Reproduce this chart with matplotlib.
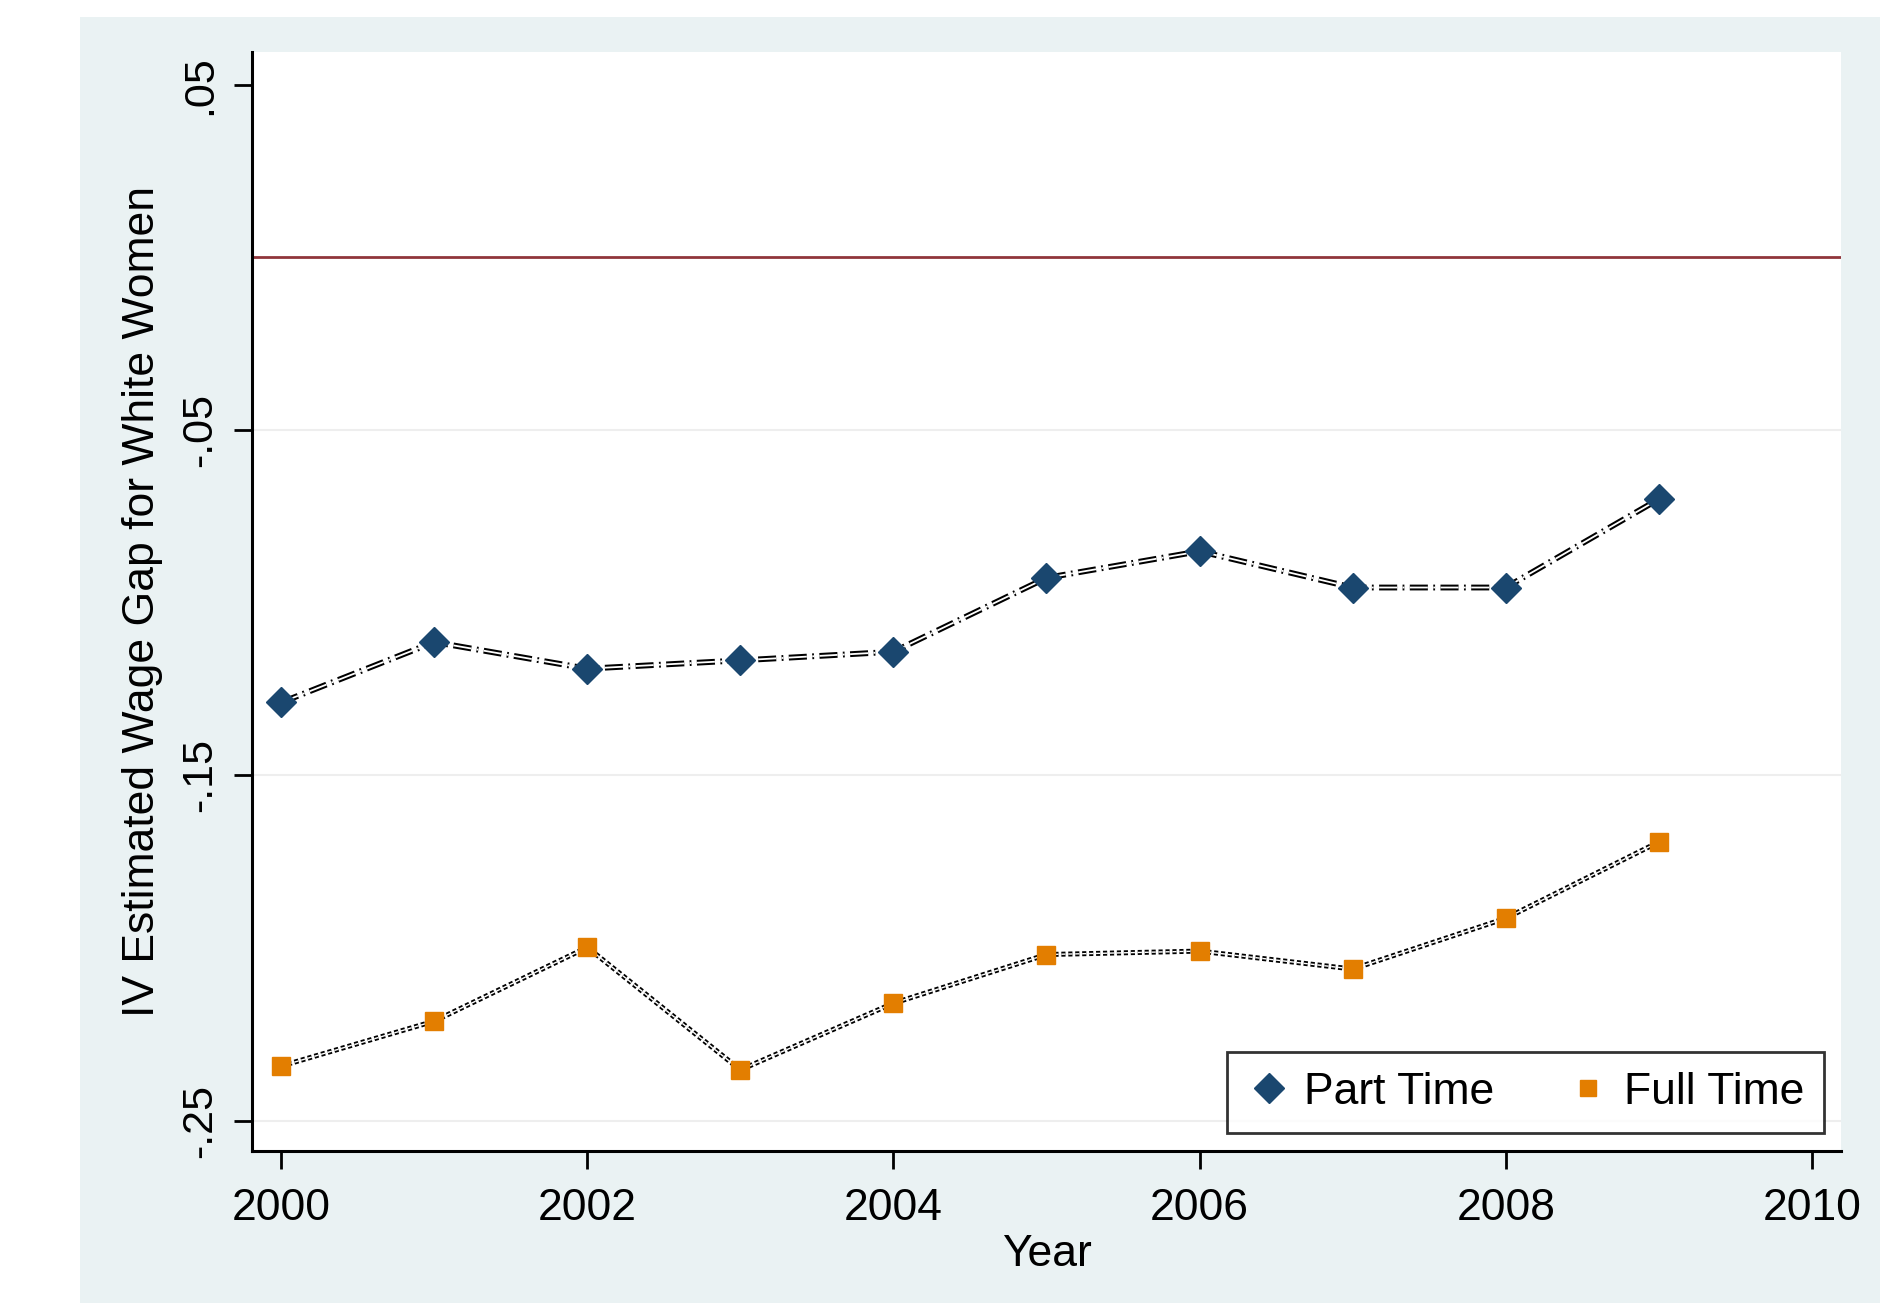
import matplotlib
matplotlib.use("Agg")
import matplotlib.pyplot as plt
import matplotlib.patheffects as pe
from matplotlib.lines import Line2D

years = [2000, 2001, 2002, 2003, 2004, 2005, 2006, 2007, 2008, 2009]
part_time = [-0.1289, -0.1114, -0.1191, -0.1167, -0.1142, -0.0928, -0.0851, -0.0956, -0.0956, -0.0700]
full_time = [-0.2342, -0.2212, -0.1998, -0.2353, -0.2160, -0.2019, -0.2009, -0.2061, -0.1914, -0.1693]
yticks = [0.05, -0.05, -0.15, -0.25]
ytick_labels = [".05", "-.05", "-.15", "-.25"]
grid_ys = [-0.05, -0.15, -0.25]
xticks = [2000, 2002, 2004, 2006, 2008, 2010]
ref_value = 0.0

BG = "#EAF2F3"
NAVY = "#1A476F"
ORANGE = "#E37E00"
MAROON = "#90353B"
FONT = ["Liberation Sans", "DejaVu Sans"]

W, H = 1900, 1303
fig = plt.figure(figsize=(W / 100, H / 100), dpi=100)
fig.patch.set_facecolor("white")
fig.patches.append(plt.Rectangle((80 / W, 0), 1800 / W, 1 - 17 / H,
                                 transform=fig.transFigure, facecolor=BG,
                                 edgecolor="none", zorder=-10))
L, R, T, B = 252, 1841, 52, 1151
ax = fig.add_axes([L / W, 1 - B / H, (R - L) / W, (B - T) / H])
ax.set_facecolor("white")

ax.set_xlim(1999.81, 2010.19)
ax.set_ylim(-0.2588, 0.0595)

for y in grid_ys:
    ax.axhline(y, color="#EEEEEE", lw=1.5, zorder=0)
ax.axhline(ref_value, color=MAROON, lw=2, zorder=1)

ax.plot(years, part_time, color="white", lw=1.3, dashes=(10, 3, 1, 3),
        path_effects=[pe.Stroke(linewidth=4.2, foreground="black"), pe.Normal()], zorder=2)
ax.plot(years, full_time, color="white", lw=1.0, dashes=(3, 2),
        path_effects=[pe.Stroke(linewidth=3.6, foreground="black"), pe.Normal()], zorder=2)
ax.plot(years, part_time, linestyle="none", marker="D", ms=15, color=NAVY, zorder=3)
ax.plot(years, full_time, linestyle="none", marker="s", ms=13, color=ORANGE, zorder=3)

for s in ["top", "right"]:
    ax.spines[s].set_visible(False)
for s in ["left", "bottom"]:
    ax.spines[s].set_linewidth(2.2)
    ax.spines[s].set_color("black")

ax.set_xticks(xticks)
ax.set_xticklabels([str(x) for x in xticks], family=FONT, fontsize=32)
ax.set_yticks(yticks)
ax.set_yticklabels(ytick_labels, family=FONT, fontsize=31, rotation=90, va="center")
ax.tick_params(axis="both", direction="out", length=13, width=2, colors="black", pad=10)
ax.tick_params(axis="x", pad=14)
ax.set_xlabel("Year", family=FONT, fontsize=32, labelpad=3)
ax.set_ylabel("IV Estimated Wage Gap for White Women", family=FONT, fontsize=32, labelpad=12)

handles = [Line2D([], [], linestyle="none", marker="D", ms=15, color=NAVY),
           Line2D([], [], linestyle="none", marker="s", ms=12, color=ORANGE)]
leg = ax.legend(handles, ["Part Time", "Full Time"], ncol=2, loc="lower right",
                bbox_to_anchor=(1824 / W, 1 - 1133 / H), bbox_transform=fig.transFigure,
                prop={"family": FONT, "size": 32}, frameon=True, fancybox=False,
                handletextpad=0.3, columnspacing=1.6, borderpad=0.45, handlelength=1.0,
                borderaxespad=0)
leg.get_frame().set_edgecolor("black")
leg.get_frame().set_linewidth(2)

fig.savefig("out.png", dpi=100)
